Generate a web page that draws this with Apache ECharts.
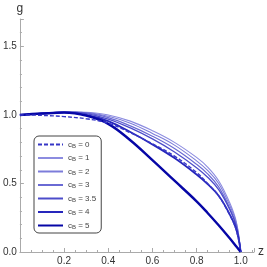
<!DOCTYPE html>
<html><head><meta charset="utf-8">
<script src="https://cdn.jsdelivr.net/npm/echarts@6/dist/echarts.min.js"></script>
<style>html,body{margin:0;padding:0;background:#fff}#c{width:267px;height:267px}</style>
</head><body><div id="c"></div>
<script>
const zValues = [0, 0.1, 0.2, 0.3, 0.4, 0.5, 0.6, 0.7, 0.8, 0.85, 0.9, 0.95, 0.98, 1.0];
const seriesNames = ['c_B = 0', 'c_B = 1', 'c_B = 2', 'c_B = 3', 'c_B = 3.5', 'c_B = 4', 'c_B = 5'];
const gCB0  = [1.0, 0.997, 0.988, 0.972, 0.94, 0.87, 0.79, 0.70, 0.58, 0.50, 0.41, 0.27, 0.16, 0];
const gCB1  = [1.0, 1.012, 1.02, 1.02, 1.0, 0.955, 0.885, 0.80, 0.69, 0.62, 0.52, 0.36, 0.22, 0];
const gCB2  = [1.0, 1.012, 1.022, 1.018, 0.99, 0.94, 0.865, 0.78, 0.665, 0.595, 0.50, 0.34, 0.21, 0];
const gCB3  = [1.0, 1.012, 1.022, 1.015, 0.98, 0.92, 0.845, 0.755, 0.64, 0.57, 0.475, 0.32, 0.195, 0];
const gCB35 = [1.0, 1.012, 1.02, 1.01, 0.97, 0.905, 0.825, 0.73, 0.615, 0.545, 0.455, 0.31, 0.185, 0];
const gCB4  = [1.0, 1.01, 1.018, 1.0, 0.955, 0.875, 0.785, 0.685, 0.565, 0.495, 0.41, 0.275, 0.165, 0];
const gCB5  = [1.0, 1.01, 1.017, 0.995, 0.935, 0.815, 0.67, 0.52, 0.37, 0.285, 0.195, 0.10, 0.04, 0];
const seriesValues = [gCB0, gCB1, gCB2, gCB3, gCB35, gCB4, gCB5];
const colors = ['#3636c6', '#8c8ce0', '#7c7cda', '#6a6ad4', '#4c4cca', '#2626bc', '#0606a6'];
const widths = [1.4, 1.1, 1.1, 1.2, 1.3, 1.8, 2.4];
const xTicks = [0.2, 0.4, 0.6, 0.8, 1.0];
const yTicks = [0.0, 0.5, 1.0, 1.5];

const chart = echarts.init(document.getElementById('c'));
const axisGray = '#aaaaaa';
chart.setOption({
  animation: false,
  grid: {left: 19, right: 12, top: 19, bottom: 15, containLabel: false},
  xAxis: {
    type: 'value', min: 0, max: 1.06, interval: 0.2,
    name: 'z', nameLocation: 'end', nameGap: 4,
    nameTextStyle: {fontSize: 12, color: '#333', fontFamily: 'Liberation Sans', padding: [0,0,4,0]},
    axisLine: {lineStyle: {color: axisGray}},
    axisTick: {inside: true, length: 4, lineStyle: {color: axisGray}},
    minorTick: {show: true, splitNumber: 4, length: 2, lineStyle: {color: axisGray}},
    splitLine: {show: false},
    axisLabel: {fontSize: 10, color: '#333', fontFamily: 'Liberation Sans', margin: 4,
      formatter: v => xTicks.some(t => Math.abs(t - v) < 1e-6) ? v.toFixed(1) : ''}
  },
  yAxis: {
    type: 'value', min: 0, max: 1.7, interval: 0.5,
    name: 'g', nameLocation: 'end', nameGap: 4,
    nameTextStyle: {fontSize: 12, color: '#333', fontFamily: 'Liberation Sans', align: 'center'},
    axisLine: {show: true, lineStyle: {color: axisGray}},
    axisTick: {show: true, inside: true, length: 4, lineStyle: {color: axisGray}},
    minorTick: {show: true, splitNumber: 5, length: 2, lineStyle: {color: axisGray}},
    splitLine: {show: false},
    axisLabel: {fontSize: 10, color: '#333', fontFamily: 'Liberation Sans', margin: 3,
      formatter: v => yTicks.some(t => Math.abs(t - v) < 1e-6) ? v.toFixed(1) : ''}
  },
  legend: {
    orient: 'vertical', left: 34, top: 136,
    data: seriesNames,
    itemWidth: 25, itemHeight: 8, itemGap: 4.5,
    padding: [4, 5, 3, 3],
    borderColor: '#444', borderWidth: 1, borderRadius: 5, backgroundColor: '#fff',
    itemStyle: {opacity: 0},
    formatter: n => n.replace('c_B', 'c{sub|B}'),
    textStyle: {fontSize: 8, lineHeight: 8, color: '#444', fontFamily: 'Liberation Sans',
      rich: {sub: {fontSize: 6, lineHeight: 8, color: '#444', fontFamily: 'Liberation Sans', padding: [3, 0, 0, 0]}}}
  },
  series: seriesNames.map((n, i) => ({
    name: n, type: 'line', smooth: 0.4, symbol: 'none',
    data: zValues.map((z, j) => [z, seriesValues[i][j]]),
    lineStyle: {color: colors[i], width: widths[i], type: i === 0 ? [4, 2] : 'solid'},
    itemStyle: {color: colors[i]},
    z: i === 0 ? 10 : 2 + i
  }))
});
</script></body></html>
